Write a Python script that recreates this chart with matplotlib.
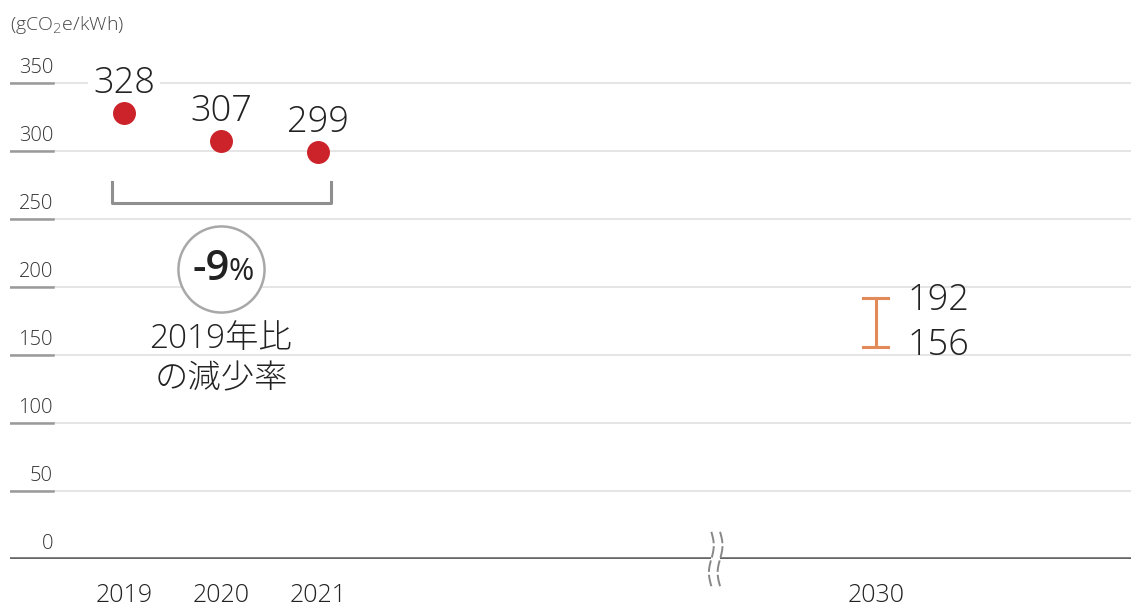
import numpy as np
import matplotlib.pyplot as plt

plt.rcParams['font.family'] = ['Open Sans', 'Noto Sans CJK JP', 'DejaVu Sans']
plt.rcParams['font.weight'] = 'light'

years = ["2019", "2020", "2021"]
intensity = [328, 307, 299]
target_year = "2030"
target_low = 156
target_high = 192
yticks = [0, 50, 100, 150, 200, 250, 300, 350]
unit_label = "(gCO$_2$e/kWh)"
change_label = "-9"
note_lines = ["2019年比", "の減少率"]

# x positions: years on a compressed axis, 2030 placed past the break
xpos = [0, 1, 2]
x_target = 7.75
x_break = 6.1

W, H = 1131, 608
fig = plt.figure(figsize=(W / 100, H / 100), dpi=100)
px = 97.0              # pixels per x unit
py = 68.0 / 50         # pixels per y unit
x0_px, y0_px = 124, 559
xmin = (10 - x0_px) / px
xmax = (W - x0_px) / px
ymax = 385
ax = fig.add_axes([10 / W, (H - y0_px) / H, (W - 10) / W, ymax * py / H])
ax.set_xlim(xmin, xmax)
ax.set_ylim(0, ymax)
ax.axis("off")

red = "#cc2229"
orange = "#e38a5b"
grid_c = "#e3e3e3"
tick_c = "#9a9a9a"
text_c = "#222222"

# gridlines with short darker underline under each tick label
lab_end = (53 - x0_px) / px
for v in yticks:
    if v == 0:
        continue
    ax.plot([xmin, xmax], [v, v], color=grid_c, lw=1.3, zorder=0)
    ax.plot([xmin, lab_end], [v, v], color=tick_c, lw=1.8, zorder=1)
for v in yticks:
    ax.text(lab_end, v + 4, str(v), ha="right", va="bottom", fontsize=14.5,
            color="#333333")

# baseline with axis break
gap = 0.045
ax.plot([xmin, x_break - gap], [0, 0], color="#666666", lw=2.6, zorder=2,
        solid_capstyle="butt")
ax.plot([x_break + gap, xmax], [0, 0], color="#666666", lw=2.6, zorder=2,
        solid_capstyle="butt")
t = np.linspace(-1, 1, 50)
for dx in (-gap, gap):
    wy = t * 20
    wx = x_break + dx + 0.025 * np.sin(t * np.pi)
    ax.plot(wx, wy, color="#888888", lw=1.4, ls=(0, (6, 1.5)), zorder=3,
            clip_on=False)

# x labels
for x, lab in zip(xpos + [x_target], years + [target_year]):
    ax.text(x, -27, lab, ha="center", va="center", fontsize=18, color=text_c)

ax.text(xmin, ymax + 8, unit_label, ha="left", va="center", fontsize=14,
        color="#444444")

# actual values
ax.plot(xpos, intensity, "o", color=red, ms=15.5, ls="none", zorder=5)
for x, v in zip(xpos, intensity):
    ax.annotate(str(v), (x, v), xytext=(0, 14.5), textcoords="offset points",
                ha="center", va="baseline", fontsize=26, color=text_c,
                bbox=dict(boxstyle="square,pad=0.15", fc="white", ec="none"),
                zorder=4)

# bracket over 2019-2021
bl = (112 - x0_px) / px
br = (331 - x0_px) / px
ax.plot([bl, bl, br, br], [277, 262, 262, 277], color="#8f8f8f", lw=2.2,
        zorder=3)

# reduction badge
ax.plot([1.0], [213], "o", ms=62, mfc="white", mec="#a8a8a8", mew=1.8,
        zorder=4)
ax.text(1.09, 213, change_label, ha="right", va="center", fontsize=30,
        fontweight="semibold", color=text_c, zorder=5)
ax.text(1.08, 211, "%", ha="left", va="center", fontsize=22,
        fontweight="normal", color=text_c, zorder=5)
ax.text(1.0, 161.5, note_lines[0], ha="center", va="center", fontsize=24,
        color=text_c, zorder=5)
ax.text(1.0, 132, note_lines[1], ha="center", va="center", fontsize=24,
        color=text_c, zorder=5)

# 2030 target range
cap = 0.13
ax.plot([x_target, x_target], [target_low, target_high], color=orange,
        lw=2.2, zorder=4)
for v in (target_low, target_high):
    ax.plot([x_target - cap, x_target + cap], [v, v], color=orange, lw=2.2,
            zorder=4)
ax.text(x_target + 0.33, target_high - 2, str(target_high), ha="left",
        va="center", fontsize=26, color=text_c)
ax.text(x_target + 0.33, target_low + 1, str(target_low), ha="left",
        va="center", fontsize=26, color=text_c)

fig.savefig("out.png", dpi=100, facecolor="white")
